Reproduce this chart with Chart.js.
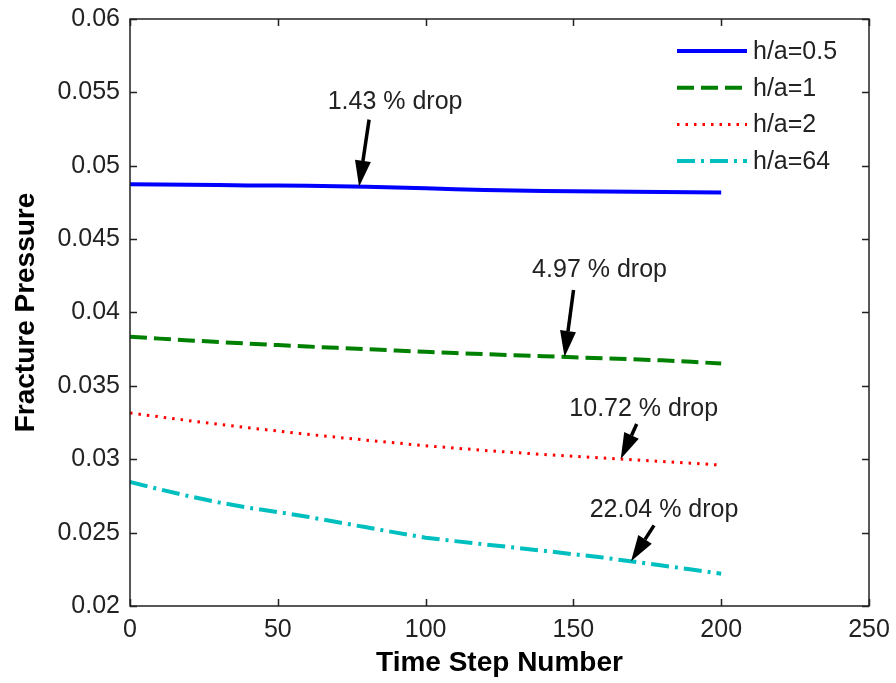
<!DOCTYPE html>
<html>
<head>
<meta charset="utf-8">
<title>Fracture Pressure vs Time Step</title>
<script src="https://cdn.jsdelivr.net/npm/chart.js@4.4.1/dist/chart.umd.min.js"></script>
<style>
  html, body { margin: 0; padding: 0; background: #fff; }
  #chart { display: block; }
</style>
</head>
<body>
<canvas id="chart" width="896" height="683"></canvas>
<script>
// ==================== DATA ====================

// sampled time steps
const steps = [0, 10, 20, 30, 40, 50, 60, 70, 80, 90, 100, 110, 120, 130, 140, 150, 160, 170, 180, 190, 200];

// fracture pressure for each h/a ratio
const pressureHa05 = [0.04874, 0.04872, 0.04870, 0.04868, 0.04866, 0.04865, 0.04863, 0.04860, 0.04857, 0.04852, 0.04846,
  0.04840, 0.04835, 0.04831, 0.04828, 0.04826, 0.04825, 0.04823, 0.04821, 0.04819, 0.04817];
const pressureHa1 = [0.03835, 0.03822, 0.03810, 0.03799, 0.03788, 0.03778, 0.03768, 0.03759, 0.03750, 0.03741, 0.03732,
  0.03724, 0.03716, 0.03709, 0.03702, 0.03695, 0.03688, 0.03681, 0.03674, 0.03664, 0.03652];
const pressureHa2 = [0.03315, 0.03289, 0.03263, 0.03239, 0.03215, 0.03192, 0.03170, 0.03150, 0.03130, 0.03111, 0.03092,
  0.03076, 0.03060, 0.03046, 0.03032, 0.03020, 0.03008, 0.02997, 0.02985, 0.02973, 0.02960];
const pressureHa64 = [0.02845, 0.02795, 0.02748, 0.02706, 0.02670, 0.02640, 0.02608, 0.02572, 0.02536, 0.02500, 0.02465,
  0.02442, 0.02420, 0.02398, 0.02376, 0.02353, 0.02330, 0.02303, 0.02276, 0.02249, 0.02220];

const seriesLabels = ["h/a=0.5", "h/a=1", "h/a=2", "h/a=64"];

// axis ticks
const xTicks = [0, 50, 100, 150, 200, 250];
const yTicks = [0.02, 0.025, 0.03, 0.035, 0.04, 0.045, 0.05, 0.055, 0.06];
const yTickLabels = ["0.02", "0.025", "0.03", "0.035", "0.04", "0.045", "0.05", "0.055", "0.06"];

// callouts: which series, the step the arrow points at, and the text
const callouts = [
  { series: 0, step: 77.5, text: "1.43 % drop" },
  { series: 1, step: 147, text: "4.97 % drop" },
  { series: 2, step: 166, text: "10.72 % drop" },
  { series: 3, step: 169.5, text: "22.04 % drop" },
];

// ==================== STYLE ====================

const seriesStyles = [
  { color: "#0000ff", width: 4, dash: [] },
  { color: "#008000", width: 4, dash: [17, 7] },
  { color: "#ff0000", width: 3, dash: [2.5, 6] },
  { color: "#00bfbf", width: 4, dash: [18, 6, 3, 6] },
];

// pixel offsets of arrow tail and text centre from the arrow tip
const calloutLayout = [
  { tail: [10, -67], text: [36, -85] },
  { tail: [9, -67], text: [35, -87] },
  { tail: [16, -35], text: [23, -50] },
  { tail: [23, -36], text: [33, -51] },
];

const FONT = "'Liberation Sans', Arial, sans-serif";
const INK = "#222";

function toPoints(values) {
  return steps.map((s, i) => ({ x: s, y: values[i] }));
}

// linear lookup of a series value at an arbitrary step
function valueAt(values, step) {
  for (let i = 1; i < steps.length; i++) {
    if (step <= steps[i]) {
      const t = (step - steps[i - 1]) / (steps[i] - steps[i - 1]);
      return values[i - 1] + t * (values[i] - values[i - 1]);
    }
  }
  return values[values.length - 1];
}

const allSeries = [pressureHa05, pressureHa1, pressureHa2, pressureHa64];

// ==================== FRAME, LEGEND, CALLOUTS ====================

const framePlugin = {
  id: "frameAndNotes",
  afterDatasetsDraw(chart) {
    const { ctx, chartArea: a, scales } = chart;
    const x = scales.x, y = scales.y;
    ctx.save();

    // axes box with inward ticks on all four sides
    ctx.strokeStyle = INK;
    ctx.lineWidth = 1.5;
    ctx.setLineDash([]);
    ctx.strokeRect(a.left, a.top, a.right - a.left, a.bottom - a.top);
    const tl = 7;
    ctx.beginPath();
    xTicks.forEach((v) => {
      const px = Math.round(x.getPixelForValue(v)) + 0.5;
      ctx.moveTo(px, a.bottom); ctx.lineTo(px, a.bottom - tl);
      ctx.moveTo(px, a.top); ctx.lineTo(px, a.top + tl);
    });
    yTicks.forEach((v) => {
      const py = Math.round(y.getPixelForValue(v)) + 0.5;
      ctx.moveTo(a.left, py); ctx.lineTo(a.left + tl, py);
      ctx.moveTo(a.right, py); ctx.lineTo(a.right - tl, py);
    });
    ctx.stroke();

    // legend in the top right corner
    ctx.font = "25px " + FONT;
    ctx.textBaseline = "middle";
    ctx.textAlign = "left";
    seriesLabels.forEach((label, i) => {
      const st = seriesStyles[i];
      const ly = 51 + i * 36.7;
      ctx.strokeStyle = st.color;
      ctx.lineWidth = st.width;
      ctx.setLineDash(st.dash);
      ctx.beginPath();
      ctx.moveTo(677, ly);
      ctx.lineTo(747, ly);
      ctx.stroke();
      ctx.setLineDash([]);
      ctx.fillStyle = INK;
      ctx.fillText(label, 753, ly + 1);
    });

    // arrows with percentage notes
    callouts.forEach((c, i) => {
      const lay = calloutLayout[i];
      const tipX = x.getPixelForValue(c.step);
      const tipY = y.getPixelForValue(valueAt(allSeries[c.series], c.step));
      const tailX = tipX + lay.tail[0];
      const tailY = tipY + lay.tail[1];
      const ang = Math.atan2(tipY - tailY, tipX - tailX);
      const headLen = 26, headW = 8;
      const baseX = tipX - headLen * Math.cos(ang);
      const baseY = tipY - headLen * Math.sin(ang);

      ctx.strokeStyle = "#000";
      ctx.fillStyle = "#000";
      ctx.lineWidth = 3.5;
      ctx.beginPath();
      ctx.moveTo(tailX, tailY);
      ctx.lineTo(baseX, baseY);
      ctx.stroke();

      ctx.beginPath();
      ctx.moveTo(tipX, tipY);
      ctx.lineTo(baseX + headW * Math.sin(ang), baseY - headW * Math.cos(ang));
      ctx.lineTo(baseX - headW * Math.sin(ang), baseY + headW * Math.cos(ang));
      ctx.closePath();
      ctx.fill();

      ctx.fillStyle = INK;
      ctx.textAlign = "center";
      ctx.textBaseline = "middle";
      ctx.fillText(c.text, tipX + lay.text[0], tipY + lay.text[1]);
    });

    ctx.restore();
  },
};

// ==================== CHART ====================

const datasets = allSeries.map((values, i) => ({
  label: seriesLabels[i],
  data: toPoints(values),
  borderColor: seriesStyles[i].color,
  borderWidth: seriesStyles[i].width,
  borderDash: seriesStyles[i].dash,
  pointRadius: 0,
  fill: false,
  tension: 0,
}));

new Chart(document.getElementById("chart"), {
  type: "line",
  data: { datasets },
  options: {
    responsive: false,
    animation: false,
    devicePixelRatio: 1,
    layout: { padding: { top: 19, right: 27, left: 0, bottom: 0 } },
    plugins: {
      legend: { display: false },
      tooltip: { enabled: false },
    },
    scales: {
      x: {
        type: "linear",
        min: 0,
        max: 250,
        afterBuildTicks: (scale) => { scale.ticks = xTicks.map((v) => ({ value: v })); },
        afterFit: (scale) => {
          scale.height = 77;
          // let the end labels hang over the edges instead of shrinking the plot
          scale.paddingLeft = 0;
          scale.paddingRight = 0;
        },
        grid: { display: false, drawTicks: false },
        border: { display: false },
        ticks: {
          padding: 9,
          maxRotation: 0,
          color: INK,
          font: { family: FONT, size: 25 },
          callback: (v) => String(v),
        },
        title: {
          display: true,
          text: "Time Step Number",
          color: "#000",
          font: { family: FONT, size: 28, weight: "bold" },
          padding: { top: 0, bottom: 3 },
        },
      },
      y: {
        type: "linear",
        min: 0.02,
        max: 0.06,
        afterBuildTicks: (scale) => { scale.ticks = yTicks.map((v) => ({ value: v })); },
        afterFit: (scale) => {
          scale.width = 130;
          scale.paddingTop = 0;
          scale.paddingBottom = 0;
        },
        grid: { display: false, drawTicks: false },
        border: { display: false },
        ticks: {
          padding: 10,
          color: INK,
          font: { family: FONT, size: 25 },
          callback: (v) => yTickLabels[yTicks.findIndex((t) => Math.abs(t - v) < 1e-9)],
        },
        title: {
          display: true,
          text: "Fracture Pressure",
          color: "#000",
          font: { family: FONT, size: 28, weight: "bold" },
          padding: { top: 9, bottom: 0 },
        },
      },
    },
  },
  plugins: [framePlugin],
});
</script>
</body>
</html>
